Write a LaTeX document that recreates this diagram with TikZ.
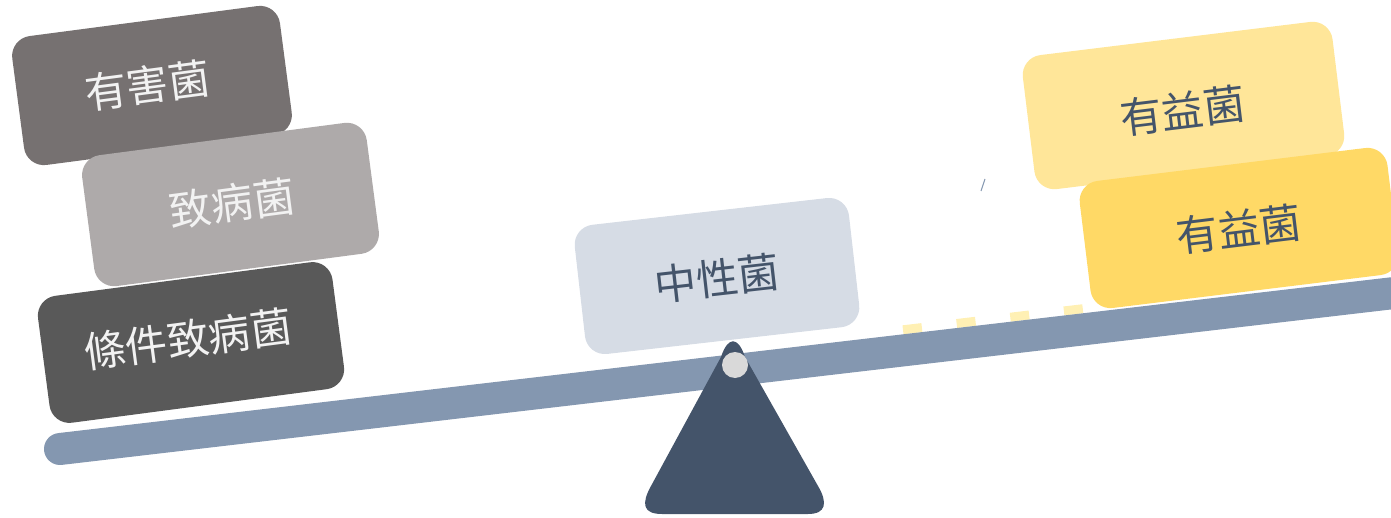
\documentclass[tikz,border=0pt]{standalone}
\usepackage{fontspec}
\newfontfamily\cjk{Noto Sans CJK SC}
\definecolor{harmc}{HTML}{767171}
\definecolor{pathc}{HTML}{AEAAAA}
\definecolor{condc}{HTML}{595959}
\definecolor{neutc}{HTML}{D6DCE5}
\definecolor{goodA}{HTML}{FFE699}
\definecolor{goodB}{HTML}{FFD966}
\definecolor{beamc}{HTML}{8497B0}
\definecolor{fulc}{HTML}{44546A}
\definecolor{pivc}{HTML}{D9D9D9}
\definecolor{dashc}{RGB}{255,240,180}
\definecolor{lighttext}{HTML}{F2F2F2}
\definecolor{darktext}{HTML}{44546A}
\begin{document}
\begin{tikzpicture}[x=1pt,y=-1pt,
  box/.style={rectangle, rounded corners=20pt, inner sep=0pt, draw=none,
    font=\cjk\fontsize{42}{50}\selectfont, text height=36pt, text depth=6pt},
  lightbox/.style={box, text=lighttext},
  darkbox/.style={box, text=darktext},
  beamline/.style={line width=32pt, draw=beamc, line cap=round},
  dashline/.style={line width=9pt, draw=dashc, dash pattern=on 19pt off 35pt},
  fulcrum/.style={fill=fulc},
  pivotdot/.style={circle, fill=pivc, minimum size=26pt, inner sep=0pt},
  strokemk/.style={draw=beamc, line width=1pt}]
\useasboundingbox (0,0) rectangle (1391,518);

% beam and dashes
\coordinate (dashL) at (903,329.8);
\coordinate (dashR) at (1084,308.6);
\coordinate (beamL) at (60,449);
\coordinate (beamR) at (1430,288.8);
\draw[dashline] (dashL) -- (dashR);
\draw[beamline] (beamL) -- (beamR);

% fulcrum
\fill[fulcrum] (662,514) -- (808,514) .. controls (826,514) and (828,503) .. (818,486)
  -- (745,357) .. controls (738,336) and (728,336) .. (721,357)
  -- (651,486) .. controls (641,504) and (643,514) .. (662,514) -- cycle;
\node[pivotdot] (pivot) at (735,365) {};

% left stack
\node[lightbox, fill=harmc, minimum width=270pt, minimum height=130pt, rotate=7.5] (b1) at (152,85.5) {\hspace*{-9pt}有害菌};
\node[lightbox, fill=pathc, minimum width=287pt, minimum height=132pt, rotate=7.5] (b2) at (230.5,204.5) {\hspace*{4pt}致病菌};
\node[lightbox, fill=condc, minimum width=297pt, minimum height=128pt, rotate=7.5, text depth=11pt] (b3) at (191,342.5) {\hspace*{-5pt}條件致病菌};

% middle
\node[darkbox, fill=neutc, minimum width=276pt, minimum height=130pt, rotate=6.5, text height=42pt] (b4) at (717,276) {中性菌};

% right stack
\node[darkbox, fill=goodA, minimum width=312pt, minimum height=135pt, rotate=7, text height=48pt] (b5) at (1183.5,105.5) {\hspace*{-3pt}有益菌};
\node[darkbox, fill=goodB, minimum width=310pt, minimum height=128pt, rotate=7, text height=40pt] (b6) at (1239,228) {有益菌};

% small stray mark
\coordinate (mkA) at (985,179);
\coordinate (mkB) at (981,191);
\draw[strokemk] (mkA) -- (mkB);
\end{tikzpicture}
\end{document}
